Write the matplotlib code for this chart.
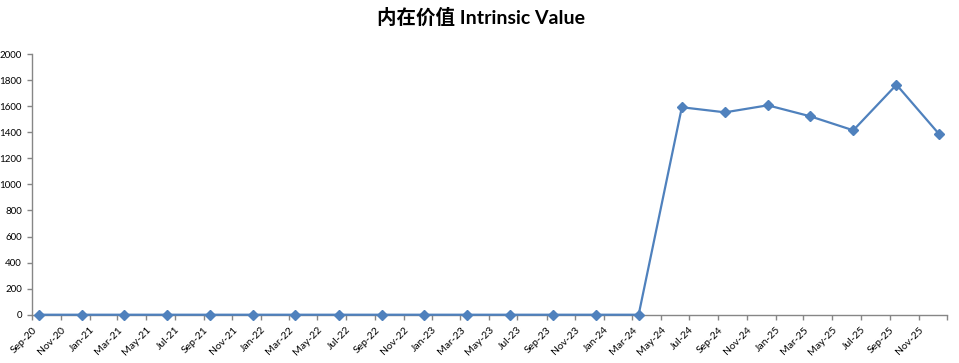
import datetime as dtm

import matplotlib
matplotlib.use('Agg')
import matplotlib.pyplot as plt
import matplotlib.dates as mdates
import matplotlib.transforms as mtrans

# quarterly observations (mid-month)
dates = ['2020-09-15', '2020-12-15', '2021-03-15', '2021-06-15', '2021-09-15',
         '2021-12-15', '2022-03-15', '2022-06-15', '2022-09-15', '2022-12-15',
         '2023-03-15', '2023-06-15', '2023-09-15', '2023-12-15', '2024-03-15',
         '2024-06-15', '2024-09-15', '2024-12-15', '2025-03-15', '2025-06-15',
         '2025-09-15', '2025-12-15']
values = [0, 0, 0, 0, 0, 0, 0, 0, 0, 0, 0, 0, 0, 0, 0,
          1592, 1553, 1607, 1523, 1415, 1765, 1385]
title = '内在价值 Intrinsic Value'

x = [dtm.datetime.strptime(d, '%Y-%m-%d') for d in dates]
fam = ['Lato', 'Noto Sans CJK SC', 'DejaVu Sans']

fig = plt.figure(figsize=(9.59, 3.63), dpi=100)
ax = fig.add_axes([0.0337, 0.133, 0.954, 0.718])

ax.plot(x, values, color='#4F81BD', linewidth=1.6, marker='D',
        markersize=5.5, markeredgecolor='#4F81BD', clip_on=False, zorder=3)

ax.set_xlim(dtm.datetime(2020, 9, 1), dtm.datetime(2026, 1, 1))
ax.set_ylim(0, 2000)
ax.set_yticks(range(0, 2001, 200))
ax.set_yticklabels([str(v) for v in range(0, 2001, 200)], family=fam, fontsize=7)

# ticks every 2 months, no label on the axis end (Jan-26)
ax.xaxis.set_major_locator(mdates.MonthLocator(bymonth=[1, 3, 5, 7, 9, 11]))
ticks = ax.get_xticks()
ticklabels = [mdates.num2date(t).strftime('%b-%y') for t in ticks]
ticklabels = [t if t != 'Jan-26' else '' for t in ticklabels]
ax.set_xticks(ticks)
ax.set_xticklabels(ticklabels, rotation=45, ha='right', va='top',
                   rotation_mode='anchor', family=fam, fontsize=7.5)
shift = mtrans.ScaledTranslation(3 / 100, 0, fig.dpi_scale_trans)
for lab in ax.get_xticklabels():
    lab.set_transform(lab.get_transform() + shift)

for side in ['top', 'right']:
    ax.spines[side].set_visible(False)
for side in ['left', 'bottom']:
    ax.spines[side].set_color('#868686')
    ax.spines[side].set_linewidth(1.0)

ax.tick_params(axis='both', colors='#868686', direction='out', length=3.5,
               width=1.0, labelcolor='black')
ax.tick_params(axis='y', pad=4)
ax.tick_params(axis='x', pad=4)

fig.text(0.502, 0.953, title, ha='center', va='center', fontsize=14,
         fontweight='bold', family=['Lato', 'Noto Sans CJK SC'])

fig.savefig('out.png', dpi=100)
